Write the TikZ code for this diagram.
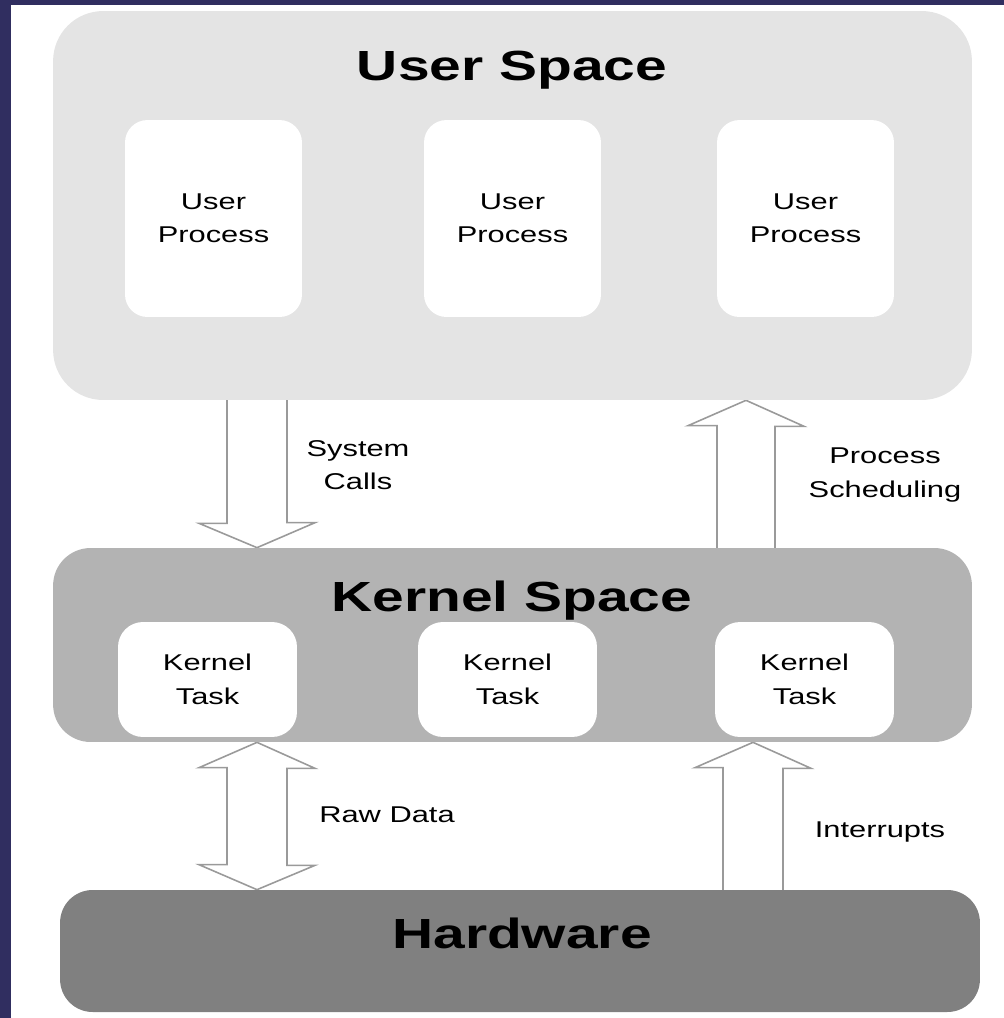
\documentclass[tikz,border=0pt]{standalone}
\usepackage{fontspec}
\setmainfont{Liberation Sans}[FakeStretch=1.35]
\usetikzlibrary{backgrounds}
\definecolor{frameblue}{HTML}{302E60}
\definecolor{userfill}{HTML}{E4E4E4}
\definecolor{kernelfill}{HTML}{B3B3B3}
\definecolor{hwfill}{HTML}{808080}
\definecolor{arrowline}{HTML}{9A9A9A}
\tikzset{
	layerbox/.style={rounded corners=#1,inner sep=0pt,minimum width=18.38cm},
	procbox/.style={fill=white,rounded corners=0.45cm,inner sep=0pt,minimum width=3.54cm,minimum height=3.94cm,align=center,font=\fontsize{13}{19}\selectfont},
	taskbox/.style={fill=white,rounded corners=0.5cm,inner sep=0pt,minimum width=3.58cm,minimum height=2.3cm,align=center,font=\fontsize{13}{19}\selectfont},
	layertitle/.style={font=\fontsize{24}{28}\selectfont\bfseries},
	arrowlabel/.style={align=center,font=\fontsize{13}{19}\selectfont},
	blockarrow/.style={draw=arrowline,fill=white,line width=0.9pt,line join=miter}
}
\begin{document}
\begin{tikzpicture}[x=0.02cm,y=-0.02cm,line cap=round]
	\useasboundingbox (0,0) rectangle (1004,1018);
	% frame
	\fill[frameblue] (0,0) rectangle (11,1018);
	\fill[frameblue] (0,0) rectangle (1004,5);
	
	% layers
	\node[layerbox=1cm,fill=userfill,minimum height=7.78cm] (us) at (512.5,205.5) {};
	\node[layerbox=0.75cm,fill=kernelfill,minimum height=3.88cm] (ks) at (512.5,645) {};
	\node[layerbox=0.65cm,fill=hwfill,minimum width=18.4cm,minimum height=2.44cm] (hw) at (520,951) {};
	
	\node[layertitle] (ustitle) at (512,70) {User Space};
	\node[layertitle] (kstitle) at (512,601) {Kernel Space};
	\node[layertitle] (hwtitle) at (522,933) {Hardware};
	
	% user processes
	\node[procbox] (up1) at (213.5,218.5) {User\\Process};
	\node[procbox] (up2) at (512.5,218.5) {User\\Process};
	\node[procbox] (up3) at (805.5,218.5) {User\\Process};
	
	% kernel tasks
	\node[taskbox] (kt1) at (207.5,679.5) {Kernel\\Task};
	\node[taskbox] (kt2) at (507.5,679.5) {Kernel\\Task};
	\node[taskbox] (kt3) at (804.5,679.5) {Kernel\\Task};
	
	% arrows
	\coordinate (scx) at (257,0);
	\coordinate (psx) at (746,0);
	\coordinate (rdx) at (257,0);
	\coordinate (inx) at (753,0);
	\begin{pgfonlayer}{background}
		\draw[blockarrow] (scx |- us.south) ++(-30,-5) -- ++(0,128) -- ++(-28,0) -- (scx |- ks.north) -- ++(58,-25) -- ++(-28,0) -- ++(0,-128) -- cycle;
		\draw[blockarrow] (psx |- ks.north) ++(-29,5) -- ++(0,-127) -- ++(-29,0) -- (psx |- us.south) -- ++(58,26) -- ++(-29,0) -- ++(0,127) -- cycle;
		\draw[blockarrow] (rdx |- ks.south) -- ++(58,26) -- ++(-28,0) -- ++(0,97) -- ++(28,0) -- (rdx |- hw.north) -- ++(-58,-25) -- ++(28,0) -- ++(0,-97) -- ++(-28,0) -- cycle;
		\draw[blockarrow] (inx |- hw.north) ++(-30,5) -- ++(0,-127) -- ++(-28,0) -- (inx |- ks.south) -- ++(58,26) -- ++(-28,0) -- ++(0,127) -- cycle;
	\end{pgfonlayer}
	
	\node[arrowlabel] (sclabel) at (358,465) {System\\Calls};
	\node[arrowlabel] (pslabel) at (885,475) {Process\\Scheduling};
	\node[arrowlabel] (rdlabel) at (387,815) {Raw Data};
	\node[arrowlabel] (inlabel) at (880,832) {Interrupts};
\end{tikzpicture}
\end{document}
